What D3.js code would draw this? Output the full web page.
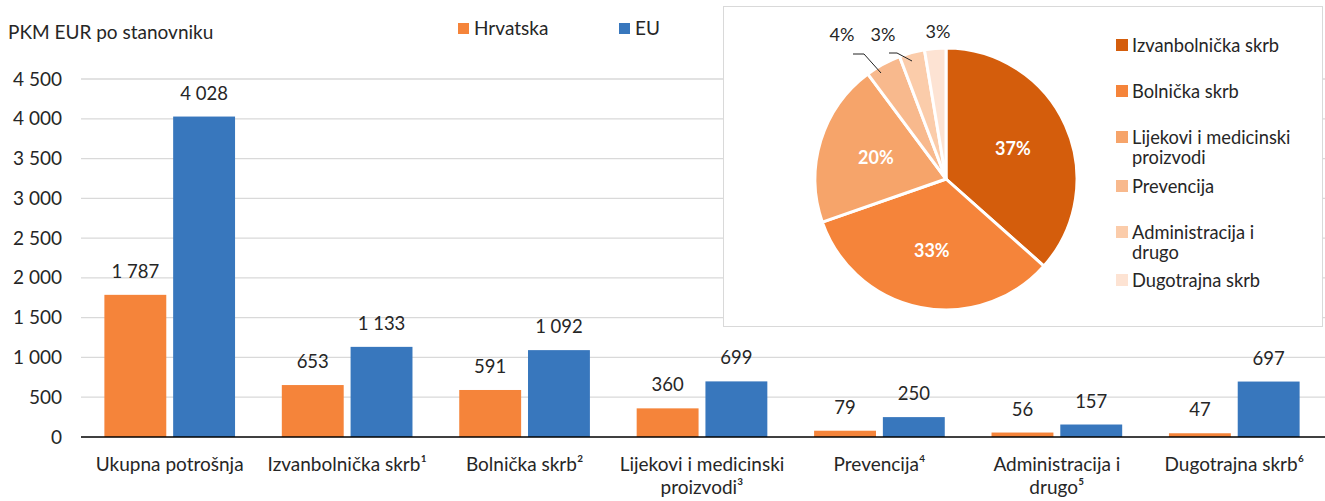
<!DOCTYPE html>
<html><head><meta charset="utf-8">
<script src="https://cdn.jsdelivr.net/npm/d3@7"></script>
<style>body{margin:0;background:#fff}svg{display:block}text{font-family:Lato,"Open Sans",sans-serif;fill:#262626}</style>
</head><body><svg id="c" width="1325" height="501"></svg>
<script>
const categories = [["Ukupna potrošnja"],["Izvanbolnička skrb¹"],["Bolnička skrb²"],["Lijekovi i medicinski","proizvodi³"],["Prevencija⁴"],["Administracija i","drugo⁵"],["Dugotrajna skrb⁶"]];
const seriesNames = ["Hrvatska","EU"];
const hrvatska = [1787,653,591,360,79,56,47];
const eu = [4028,1133,1092,699,250,157,697];
const yTicks = [0,500,1000,1500,2000,2500,3000,3500,4000,4500];
const pieNames = [["Izvanbolnička skrb"],["Bolnička skrb"],["Lijekovi i medicinski","proizvodi"],["Prevencija"],["Administracija i","drugo"],["Dugotrajna skrb"]];
const pieValues = hrvatska.slice(1);
const pieColors = ["#D45D0C","#F5843A","#F6A46A","#F8B98D","#FBCCAA","#FDE3D3"];
const colors = ["#F5843A","#3877BD"];

const FS = 19;
const svg = d3.select("#c");
const fmt = v => d3.format(",")(v).replace(/,/g," ");
const y = d3.scaleLinear().domain([0,4500]).range([437,79]);
const x0 = d3.scaleBand().domain(d3.range(categories.length)).range([81,1323]);
const x1 = d3.scaleBand().domain([0,1]).range([0,x0.bandwidth()]).paddingInner(0.1).paddingOuter(0.34);

// gridlines
svg.append("g").selectAll("line").data(yTicks.slice(1)).join("line")
  .attr("x1",81).attr("x2",1325).attr("y1",d=>y(d)).attr("y2",d=>y(d))
  .attr("stroke","#d9d9d9").attr("stroke-width",1.3);
svg.append("g").selectAll("text").data(yTicks).join("text")
  .attr("x",62).attr("y",d=>y(d)+6.5).attr("text-anchor","end").attr("font-size",FS).text(fmt);
svg.append("text").attr("x",8).attr("y",39).attr("font-size",FS).text("PKM EUR po stanovniku");

// bars
const series=[hrvatska,eu];
series.forEach((s,si)=>{
  const g=svg.append("g");
  g.selectAll("rect").data(s).join("rect")
    .attr("x",(d,i)=>x0(i)+x1(si)).attr("width",x1.bandwidth())
    .attr("y",d=>y(d)).attr("height",d=>y(0)-y(d)).attr("fill",colors[si]);
  g.selectAll("text").data(s).join("text")
    .attr("x",(d,i)=>x0(i)+x1(si)+x1.bandwidth()/2).attr("y",d=>y(d)-17)
    .attr("text-anchor","middle").attr("font-size",18.5).text(fmt);
});
svg.append("line").attr("x1",81).attr("x2",1325).attr("y1",y(0)).attr("y2",y(0)).attr("stroke","#000").attr("stroke-width",1.5);

// x labels
const xl=svg.append("g").selectAll("text").data(categories).join("text")
  .attr("x",(d,i)=>x0(i)+x0.bandwidth()/2).attr("y",471).attr("text-anchor","middle").attr("font-size",FS);
xl.selectAll("tspan").data(d=>d).join("tspan")
  .attr("x",function(){return this.parentNode.getAttribute("x")}).attr("dy",(d,i)=>i?23:0).text(d=>d);

// legend
seriesNames.forEach((n,i)=>{
  const lx=[458,619][i];
  svg.append("rect").attr("x",lx).attr("y",23).attr("width",11).attr("height",11).attr("fill",colors[i]);
  svg.append("text").attr("x",lx+16).attr("y",35).attr("font-size",FS).text(n);
});

// pie box
svg.append("rect").attr("x",723.5).attr("y",6.5).attr("width",599).attr("height",320).attr("fill","#fff").attr("stroke","#d9d9d9");
const cx=946, cy=179, R=131;
const pie=d3.pie().sort(null).value(d=>d)(pieValues);
const arc=d3.arc().innerRadius(0).outerRadius(R);
const pg=svg.append("g").attr("transform",`translate(${cx},${cy})`);
pg.selectAll("path").data(pie).join("path").attr("d",arc).attr("fill",(d,i)=>pieColors[i])
  .attr("stroke","#fff").attr("stroke-width",3).attr("stroke-linejoin","round");
const total=d3.sum(pieValues);
const pct=d=>Math.round(d.data/total*100)+"%";
const inArc=d3.arc().innerRadius(R*0.5).outerRadius(R*0.62);
pg.selectAll("text.in").data(pie.slice(0,3)).join("text").attr("class","in")
  .attr("transform",d=>`translate(${inArc.centroid(d)})`).attr("dy",6)
  .attr("text-anchor","middle").attr("font-size",18).attr("font-weight",700).style("fill","#fff").text(pct);
// outer labels
const outPos=[[842,35],[883,35],[938,32]];
pie.slice(3).forEach((d,k)=>{
  svg.append("text").attr("x",outPos[k][0]).attr("y",outPos[k][1]+6).attr("text-anchor","middle").attr("font-size",18).text(pct(d));
});
const leaders=[[[853,54],[864,54],[881,73]],[[889,53],[897,53],[912,61]]];
leaders.forEach(p=>svg.append("path").attr("d",d3.line()(p)).attr("fill","none").attr("stroke","#222").attr("stroke-width",1));

// pie legend
const ly=[45,91,137,186,232,280];
pieNames.forEach((n,i)=>{
  svg.append("rect").attr("x",1116).attr("y",ly[i]-6).attr("width",12).attr("height",12).attr("fill",pieColors[i]);
  const t=svg.append("text").attr("x",1132).attr("y",ly[i]+6.5).attr("font-size",18.3);
  n.forEach((s,j)=>t.append("tspan").attr("x",1132).attr("dy",j?20:0).text(s));
});
</script></body></html>
